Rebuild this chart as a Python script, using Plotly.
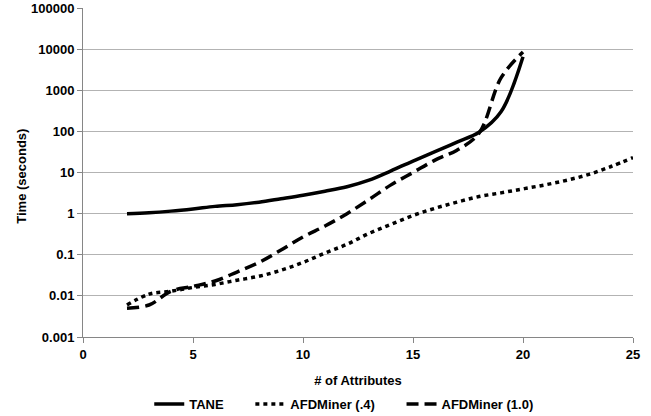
import plotly.graph_objects as go

x_tane = list(range(2, 21))
tane = [1.0, 1.05, 1.15, 1.3, 1.5, 1.65, 1.9, 2.3, 2.8, 3.5, 4.5, 6.5, 11, 19, 32, 55, 95, 300, 6500]

x_afd4 = list(range(2, 26))
afd4 = [0.006, 0.011, 0.013, 0.016, 0.019, 0.024, 0.03, 0.042, 0.065, 0.11, 0.18, 0.33,
        0.55, 0.9, 1.35, 1.9, 2.6, 3.2, 4.0, 5.0, 6.5, 9, 14, 23]

x_afd10 = list(range(2, 21))
afd10 = [0.005, 0.006, 0.013, 0.017, 0.023, 0.038, 0.065, 0.13, 0.27, 0.5, 1.0, 2.2,
         5, 10, 20, 35, 90, 2000, 8500]

y_tickvals = [0.001, 0.01, 0.1, 1, 10, 100, 1000, 10000, 100000]
y_ticktext = ["0.001", "0.01", "0.1", "1", "10", "100", "1000", "10000", "100000"]

series_names = ["TANE", "AFDMiner (.4)", "AFDMiner (1.0)"]

font_family = "Liberation Sans, Arial"
bold = dict(family=font_family, size=13, color="black", weight="bold")
pad = "\u00a0" * 6

fig = go.Figure()
fig.add_trace(go.Scatter(x=x_tane, y=tane, mode="lines", name=series_names[0] + pad,
                         line=dict(color="black", width=3.5, shape="spline")))
fig.add_trace(go.Scatter(x=x_afd4, y=afd4, mode="lines", name=series_names[1] + pad,
                         line=dict(color="black", width=3.5, shape="spline", dash="4px,4px")))
fig.add_trace(go.Scatter(x=x_afd10, y=afd10, mode="lines", name=series_names[2],
                         line=dict(color="black", width=3.5, shape="spline", dash="12px,6px")))

fig.update_layout(
    width=651, height=416,
    margin=dict(l=83, r=18, t=8, b=79, autoexpand=False),
    plot_bgcolor="white", paper_bgcolor="white",
    font=dict(family=font_family, size=13, color="black"),
    showlegend=True,
    legend=dict(orientation="h", x=0.475, xanchor="center", y=-0.204, yanchor="middle",
                font=bold, itemwidth=30, tracegroupgap=0),
    annotations=[dict(text="Time (seconds)", textangle=-90, xref="paper", yref="paper",
                      x=-0.111, y=0.49, xanchor="center", yanchor="middle",
                      showarrow=False, font=bold)],
)
fig.update_xaxes(
    range=[0, 25], tickvals=[0, 5, 10, 15, 20, 25],
    showgrid=False, showline=True, linecolor="#868686", linewidth=1,
    ticks="outside", tickcolor="#868686", ticklen=5,
    tickfont=bold,
    title=dict(text="# of Attributes", standoff=15, font=bold),
    zeroline=False,
)
fig.update_yaxes(
    type="log", range=[-3, 5], tickvals=y_tickvals, ticktext=y_ticktext,
    showgrid=True, gridcolor="#b3b3b3", gridwidth=1,
    showline=True, linecolor="#868686", linewidth=1,
    ticks="outside", tickcolor="#868686", ticklen=5,
    tickfont=bold,
    zeroline=False,
)

fig.write_html("out.html")
